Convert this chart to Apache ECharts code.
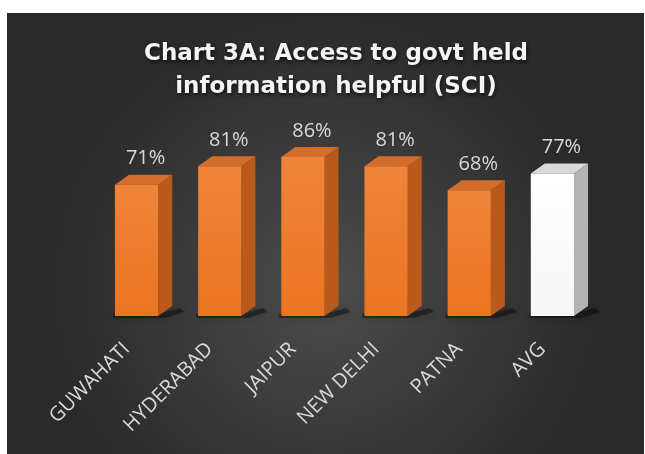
<!DOCTYPE html>
<html>
<head>
<meta charset="utf-8">
<script src="https://cdn.jsdelivr.net/npm/echarts@6/dist/echarts.min.js"></script>
<style>
html,body{margin:0;padding:0;background:#ffffff;}
#chart{width:645px;height:454px;}
</style>
</head>
<body>
<div id="chart"></div>
<script>
const categories = ['GUWAHATI', 'HYDERABAD', 'JAIPUR', 'NEW DELHI', 'PATNA', 'AVG'];
const values = [71, 81, 86, 81, 68, 77];
const titleLines = ['Chart 3A: Access to govt held', 'information helpful (SCI)'];

const chart = echarts.init(document.getElementById('chart'));

const DX = 14, DY = -10, SHIFT = 10;

function renderBar(params, api) {
  const idx = api.value(0);
  const val = api.value(1);
  const top = api.coord([idx, val]);
  const base = api.coord([idx, 0]);
  const cw = api.size([1, 0])[0];
  const w = cw * 0.52;
  const cx = top[0] + SHIFT;
  const x0 = cx - w / 2, x1 = cx + w / 2;
  const yt = top[1], yb = base[1];
  const isAvg = categories[idx] === 'AVG';
  const frontColor = isAvg
    ? new echarts.graphic.LinearGradient(0, 0, 0, 1, [{offset: 0, color: '#ffffff'}, {offset: 1, color: '#f6f6f6'}])
    : new echarts.graphic.LinearGradient(0, 0, 0, 1, [{offset: 0, color: '#f0843a'}, {offset: 1, color: '#eb7420'}]);
  const sideColor = isAvg ? '#b3b3b3' : '#b9591c';
  const topColor = isAvg ? '#d9d9d9' : '#d46c2c';
  return {
    type: 'group',
    children: [
      {
        type: 'polygon',
        shape: {points: [[x1, yb - 2], [x1 + DX + 8, yb + DY + 2], [x1 + DX + 12, yb + DY + 6], [x1 + 6, yb + 2], [x0 - 2, yb + 2], [x0 - 2, yb - 2]]},
        style: {fill: 'rgba(0,0,0,0.4)', shadowBlur: 10, shadowColor: 'rgba(0,0,0,0.6)'},
        z2: 1
      },
      {
        type: 'polygon',
        shape: {points: [[x1, yt], [x1 + DX, yt + DY], [x1 + DX, yb + DY], [x1, yb]]},
        style: {fill: sideColor},
        z2: 2
      },
      {
        type: 'polygon',
        shape: {points: [[x0, yt], [x0 + DX, yt + DY], [x1 + DX, yt + DY], [x1, yt]]},
        style: {fill: topColor},
        z2: 2
      },
      {
        type: 'rect',
        shape: {x: x0, y: yt, width: w, height: yb - yt},
        style: {fill: frontColor},
        z2: 3
      },
      {
        type: 'text',
        x: cx + 9,
        y: yt + DY - 16,
        style: {
          text: val + '%',
          fill: '#d9d9d9',
          font: '20px "Open Sans"',
          align: 'center',
          verticalAlign: 'middle'
        },
        z2: 4
      }
    ]
  };
}

const option = {
  animation: false,
  backgroundColor: '#ffffff',
  graphic: [
    {
      type: 'rect',
      z: -10,
      shape: {x: 7, y: 13, width: 637, height: 441},
      style: {
        fill: new echarts.graphic.RadialGradient(0.5, 0.62, 0.62, [
          {offset: 0, color: '#4d4d4d'},
          {offset: 1, color: '#2a2a2a'}
        ])
      }
    }
  ],
  title: {
    text: titleLines.join('\n'),
    left: 331,
    top: 33,
    textAlign: 'center',
    textStyle: {
      color: '#f4f4f4',
      fontFamily: 'DejaVu Sans',
      fontWeight: 'bold',
      fontSize: 23,
      lineHeight: 33,
      textShadowColor: 'rgba(0,0,0,0.7)',
      textShadowBlur: 4,
      textShadowOffsetX: 1,
      textShadowOffsetY: 2
    }
  },
  grid: {left: 85, width: 499, top: 131, height: 185},
  xAxis: {
    type: 'category',
    data: categories,
    axisLine: {show: false},
    axisTick: {show: false},
    axisLabel: {
      rotate: 45,
      margin: 30,
      color: '#d9d9d9',
      fontFamily: 'Open Sans',
      fontSize: 20,
      interval: 0
    }
  },
  yAxis: {
    type: 'value',
    min: 0,
    max: 100,
    show: false
  },
  series: [{
    type: 'custom',
    renderItem: renderBar,
    data: values.map((v, i) => [i, v])
  }]
};
chart.setOption(option);
</script>
</body>
</html>
